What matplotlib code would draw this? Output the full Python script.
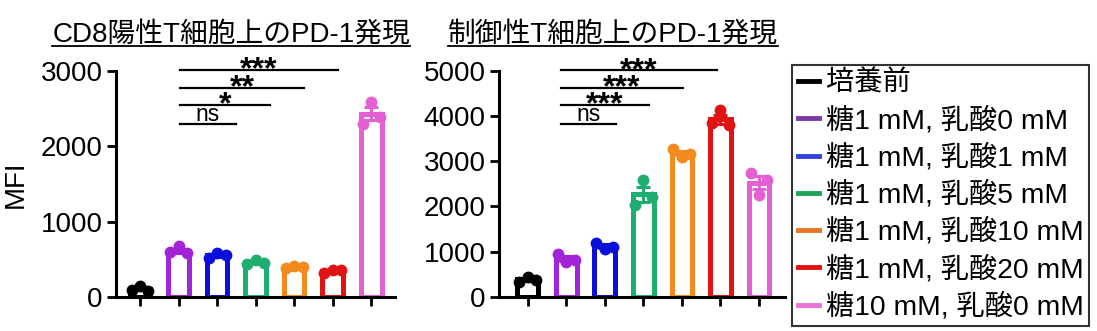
import numpy as np
import matplotlib
matplotlib.use('Agg')
import matplotlib.pyplot as plt
from matplotlib.lines import Line2D

plt.rcParams['font.family'] = ['Liberation Sans', 'Noto Sans CJK JP', 'DejaVu Sans']

groups = ['培養前', '糖1 mM, 乳酸0 mM', '糖1 mM, 乳酸1 mM', '糖1 mM, 乳酸5 mM',
          '糖1 mM, 乳酸10 mM', '糖1 mM, 乳酸20 mM', '糖10 mM, 乳酸0 mM']
colors = ['#000000', '#a324d6', '#0a10d8', '#1fae72', '#f28a1e', '#e01414', '#e460d2']
legend_colors = ['#000000', '#7a3aa6', '#3344dd', '#22a458', '#e87524', '#e41010', '#ee72d6']

# replicate values (left, centre, right)
cd8_vals = [[95, 145, 85], [590, 670, 580], [520, 585, 555], [440, 490, 450],
            [385, 415, 400], [320, 360, 355], [2300, 2590, 2390]]
treg_vals = [[340, 450, 380], [960, 770, 820], [1200, 1060, 1100], [2030, 2580, 2200],
             [3280, 3100, 3170], [3850, 4130, 3800], [2740, 2260, 2580]]

cd8_title = 'CD8陽性T細胞上のPD-1発現'
treg_title = '制御性T細胞上のPD-1発現'

# significance brackets: (x start, x end, y, label)
cd8_sig = [(1.04, 2.49, 2290, 'ns'), (1.04, 3.38, 2546, '*'),
           (1.04, 4.26, 2776, '**'), (1.04, 5.14, 3010, '***')]
treg_sig = [(0.85, 2.29, 3815, 'ns'), (0.85, 3.15, 4235, '***'),
            (0.85, 4.03, 4623, '***'), (0.85, 4.9, 5005, '***')]

fig = plt.figure(figsize=(10.97, 3.31), dpi=100)
ax1 = fig.add_axes([0.1055, 0.1027, 0.2546, 0.6837])
ax2 = fig.add_axes([0.4549, 0.1027, 0.2607, 0.6837])


def draw(ax, vals, ymax, step, sig, xlim):
    x = np.arange(len(vals))
    offs = np.array([-0.22, 0.0, 0.22])
    for i, v in enumerate(vals):
        v = np.array(v, dtype=float)
        m = v.mean()
        sem = v.std(ddof=1) / np.sqrt(len(v))
        ax.bar(x[i], m, width=0.54, facecolor='white', edgecolor=colors[i],
               linewidth=3.6, zorder=2)
        ax.errorbar(x[i], m, yerr=sem, color=colors[i], capsize=5, elinewidth=2.2,
                    capthick=2.2, zorder=3)
        ax.plot(x[i] + offs, v, 'o', color=colors[i], markersize=7.5, zorder=4,
                clip_on=False)
    for x0, x1, y, lab in sig:
        ax.plot([x0, x1], [y, y], color='black', lw=1.6, clip_on=False)
        if lab == 'ns':
            ax.annotate(lab, ((x0 + x1) / 2, y), xytext=(0, 2.5), textcoords='offset points',
                        ha='center', va='baseline', fontsize=16.5, annotation_clip=False)
        else:
            ax.annotate(lab, ((x0 + x1) / 2, y), xytext=(0, -6.0), textcoords='offset points',
                        ha='center', va='baseline', fontsize=23, fontweight='bold',
                        annotation_clip=False)
    ax.set_xlim(*xlim)
    ax.set_ylim(0, ymax)
    ax.set_yticks(np.arange(0, ymax + 1, step))
    ax.set_xticks(x)
    ax.set_xticklabels([])
    for s in ['top', 'right']:
        ax.spines[s].set_visible(False)
    for s in ['left', 'bottom']:
        ax.spines[s].set_linewidth(2.2)
    ax.tick_params(axis='both', width=2, length=6.5, labelsize=20, pad=3)


draw(ax1, cd8_vals, 3000, 1000, cd8_sig, (-0.63, 6.62))
draw(ax2, treg_vals, 5000, 1000, treg_sig, (-0.745, 6.675))

ax1.set_ylabel('MFI', fontsize=20)
ax1.yaxis.set_label_coords(-0.31, 0.5)

# underlined titles
fig.canvas.draw()
r = fig.canvas.get_renderer()
for cx, t in [(231, cd8_title), (613, treg_title)]:
    txt = fig.text(cx / 1097, 1 - 35 / 331, t, ha='center', va='center', fontsize=20)
    bb = txt.get_window_extent(renderer=r).transformed(fig.transFigure.inverted())
    fig.add_artist(Line2D([bb.x0, bb.x1], [1 - 46 / 331] * 2, color='black', lw=1.3,
                          transform=fig.transFigure))

handles = [Line2D([], [], color=c, lw=3.5) for c in legend_colors]
leg = fig.legend(handles, groups, loc='upper left',
                 bbox_to_anchor=(792 / 1097, 1 - 65 / 331), frameon=True, fancybox=False,
                 fontsize=20.3, handlelength=0.75, handletextpad=0.25, labelspacing=0.34,
                 borderpad=0.2, borderaxespad=0)
leg.get_frame().set_edgecolor('black')
leg.get_frame().set_linewidth(1.5)

fig.savefig('out.png', dpi=100)
